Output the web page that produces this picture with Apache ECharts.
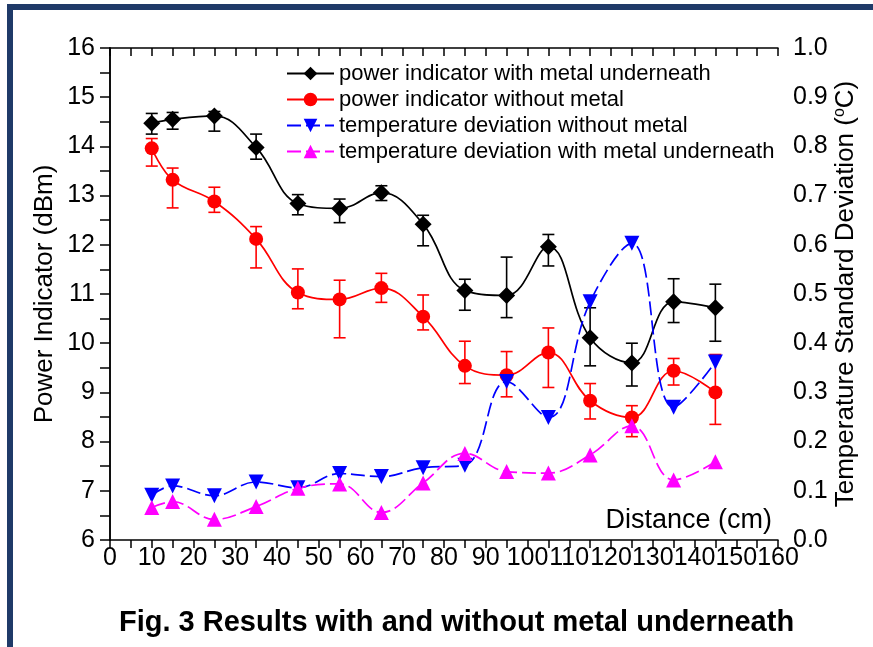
<!DOCTYPE html>
<html>
<head>
<meta charset="utf-8">
<script src="https://cdn.jsdelivr.net/npm/echarts@6/dist/echarts.min.js"></script>
<style>
  html, body { margin: 0; padding: 0; background: #fff; }
  #wrap { position: relative; width: 873px; height: 647px; overflow: hidden; }
  #chart { position: absolute; left: 0; top: 0; width: 873px; height: 647px; }
  #frame {
    position: absolute; left: 7px; top: 4px; width: 880px; height: 641px;
    border-left: 6px solid #1f3a68; border-top: 6px solid #1f3a68;
    border-bottom: 2px solid #b9c4d6; pointer-events: none;
  }
</style>
</head>
<body>
<div id="wrap">
  <div id="chart"></div>
  <div id="frame"></div>
</div>
<script>
// distance (cm)
const distance = [10, 15, 25, 35, 45, 55, 65, 75, 85, 95, 105, 115, 125, 135, 145]

// power indicator (dBm), with error bar ranges
const powerMetal = [14.47, 14.55, 14.62, 13.98, 12.84, 12.74, 13.06, 12.42, 11.07, 10.97, 11.96, 10.11, 9.6, 10.84, 10.72]
const powerMetalLow = [14.25, 14.35, 14.31, 13.74, 12.61, 12.45, 12.9, 11.98, 10.67, 10.52, 11.57, 9.54, 9.13, 10.42, 10.04]
const powerMetalHigh = [14.67, 14.69, 14.71, 14.25, 13.02, 12.93, 13.2, 12.6, 11.3, 11.75, 12.21, 10.72, 10.0, 11.31, 11.2]

const powerNoMetal = [13.96, 13.32, 12.88, 12.12, 11.03, 10.89, 11.12, 10.54, 9.54, 9.35, 9.81, 8.83, 8.49, 9.44, 9.0]
const powerNoMetalLow = [13.6, 12.75, 12.66, 11.53, 10.7, 10.11, 10.83, 10.27, 9.18, 8.91, 9.1, 8.46, 8.1, 9.15, 8.35]
const powerNoMetalHigh = [14.16, 13.56, 13.17, 12.37, 11.51, 11.28, 11.42, 10.98, 10.04, 9.83, 10.31, 9.18, 8.73, 9.69, 9.77]

// temperature standard deviation (°C)
const tempNoMetal = [0.091, 0.11, 0.09, 0.118, 0.106, 0.135, 0.129, 0.147, 0.152, 0.322, 0.249, 0.484, 0.603, 0.27, 0.362]
const tempMetal = [0.066, 0.078, 0.042, 0.068, 0.105, 0.114, 0.056, 0.116, 0.176, 0.139, 0.136, 0.173, 0.232, 0.122, 0.159]

const FONT = 'Liberation Sans, Arial, sans-serif'

const pairs = (ys) => distance.map((x, i) => [x, ys[i]])
const ranges = (lo, hi) => distance.map((x, i) => [x, lo[i], hi[i]])

function errorBars(color) {
  return function (params, api) {
    const x = api.value(0)
    const top = api.coord([x, api.value(2)])
    const bot = api.coord([x, api.value(1)])
    const w = 6
    const style = { stroke: color, lineWidth: 1.6 }
    return {
      type: 'group',
      children: [
        { type: 'line', shape: { x1: top[0], y1: top[1], x2: bot[0], y2: bot[1] }, style },
        { type: 'line', shape: { x1: top[0] - w, y1: top[1], x2: top[0] + w, y2: top[1] }, style },
        { type: 'line', shape: { x1: bot[0] - w, y1: bot[1], x2: bot[0] + w, y2: bot[1] }, style }
      ]
    }
  }
}

const chart = echarts.init(document.getElementById('chart'), null, { renderer: 'canvas' })

const axisLine = { show: true, lineStyle: { color: '#000', width: 1.5 } }

chart.setOption({
  animation: false,
  textStyle: { fontFamily: FONT },
  title: {
    text: 'Fig. 3 Results with and without metal underneath',
    left: 114,
    top: 603,
    textStyle: { fontFamily: FONT, fontSize: 29, fontWeight: 'bold', color: '#000' }
  },
  legend: {
    orient: 'vertical',
    left: 281,
    top: 57,
    itemGap: 3,
    itemWidth: 47,
    itemHeight: 17,
    textStyle: { fontFamily: FONT, fontSize: 22, color: '#000', lineHeight: 23 },
    data: [
      'power indicator with metal underneath',
      'power indicator without metal',
      'temperature deviation without metal',
      'temperature deviation with metal underneath'
    ]
  },
  grid: { left: 110, right: 95, top: 48, bottom: 107 },
  xAxis: [{
    type: 'value',
    min: 0,
    max: 160,
    interval: 10,
    name: 'Distance (cm)',
    nameLocation: 'end',
    nameGap: -6,
    nameMoveOverlap: false,
    nameTextStyle: { fontFamily: FONT, fontSize: 27, color: '#000', align: 'right', verticalAlign: 'bottom', padding: [0, 0, 6, 0] },
    axisLine,
    axisTick: { show: true, inside: false, length: 8, lineStyle: { color: '#000', width: 1.5 } },
    minorTick: { show: true, splitNumber: 2, length: 8, lineStyle: { color: '#000', width: 1.5 } },
    axisLabel: { fontFamily: FONT, fontSize: 25, color: '#000', margin: 6, hideOverlap: false },
    splitLine: { show: false }
  }, {
    type: 'value',
    position: 'top',
    min: 0,
    max: 160,
    interval: 10,
    axisLine,
    axisTick: { show: true, inside: true, length: 8, lineStyle: { color: '#000', width: 1.5 } },
    minorTick: { show: true, splitNumber: 2, length: 8, lineStyle: { color: '#000', width: 1.5 } },
    axisLabel: { show: false },
    splitLine: { show: false }
  }],
  yAxis: [{
    type: 'value',
    min: 6,
    max: 16,
    interval: 1,
    name: 'Power Indicator (dBm)',
    nameLocation: 'middle',
    nameGap: 52,
    nameMoveOverlap: false,
    nameTextStyle: { fontFamily: FONT, fontSize: 26, color: '#000' },
    axisLine,
    axisTick: { show: true, inside: false, length: 9, lineStyle: { color: '#000', width: 1.5 } },
    minorTick: { show: true, splitNumber: 2, length: 9, lineStyle: { color: '#000', width: 1.5 } },
    axisLabel: { fontFamily: FONT, fontSize: 25, color: '#000', margin: 15 },
    splitLine: { show: false }
  }, {
    type: 'value',
    position: 'right',
    min: 0,
    max: 1,
    interval: 0.1,
    name: 'Temperature Standard Deviation ({sup|o}C)',
    nameLocation: 'middle',
    nameGap: 54,
    nameMoveOverlap: false,
    nameTextStyle: {
      fontFamily: FONT, fontSize: 26, color: '#000',
      rich: { sup: { fontFamily: FONT, fontSize: 16, color: '#000', padding: [0, 0, 12, 0] } }
    },
    axisLine,
    axisTick: { show: true, inside: true, length: 10, lineStyle: { color: '#000', width: 1.5 } },
    minorTick: { show: true, splitNumber: 2, length: 10, lineStyle: { color: '#000', width: 1.5 } },
    axisLabel: { fontFamily: FONT, fontSize: 25, color: '#000', margin: 15, formatter: (v) => v.toFixed(1) },
    splitLine: { show: false }
  }],
  series: [{
    name: 'metal error',
    type: 'custom',
    yAxisIndex: 0,
    renderItem: errorBars('#000'),
    encode: { x: 0, y: [1, 2] },
    data: ranges(powerMetalLow, powerMetalHigh),
    z: 1
  }, {
    name: 'no metal error',
    type: 'custom',
    yAxisIndex: 0,
    renderItem: errorBars('#ff0000'),
    encode: { x: 0, y: [1, 2] },
    data: ranges(powerNoMetalLow, powerNoMetalHigh),
    z: 1
  }, {
    name: 'power indicator with metal underneath',
    type: 'line',
    yAxisIndex: 0,
    smooth: 0.4,
    symbol: 'diamond',
    symbolSize: 17,
    itemStyle: { color: '#000' },
    lineStyle: { color: '#000', width: 1.7 },
    data: pairs(powerMetal),
    z: 3
  }, {
    name: 'power indicator without metal',
    type: 'line',
    yAxisIndex: 0,
    smooth: 0.4,
    symbol: 'circle',
    symbolSize: 14,
    itemStyle: { color: '#ff0000' },
    lineStyle: { color: '#ff0000', width: 1.7 },
    data: pairs(powerNoMetal),
    z: 3
  }, {
    name: 'temperature deviation without metal',
    type: 'line',
    yAxisIndex: 1,
    smooth: 0.4,
    symbol: 'triangle',
    symbolRotate: 180,
    symbolSize: 15,
    itemStyle: { color: '#0000ff' },
    lineStyle: { color: '#0000ff', width: 1.7, type: [14, 5] },
    data: pairs(tempNoMetal),
    z: 3
  }, {
    name: 'temperature deviation with metal underneath',
    type: 'line',
    yAxisIndex: 1,
    smooth: 0.4,
    symbol: 'triangle',
    symbolSize: 15,
    itemStyle: { color: '#ff00ff' },
    lineStyle: { color: '#ff00ff', width: 1.7, type: [14, 5] },
    data: pairs(tempMetal),
    z: 3
  }]
})
</script>
</body>
</html>
